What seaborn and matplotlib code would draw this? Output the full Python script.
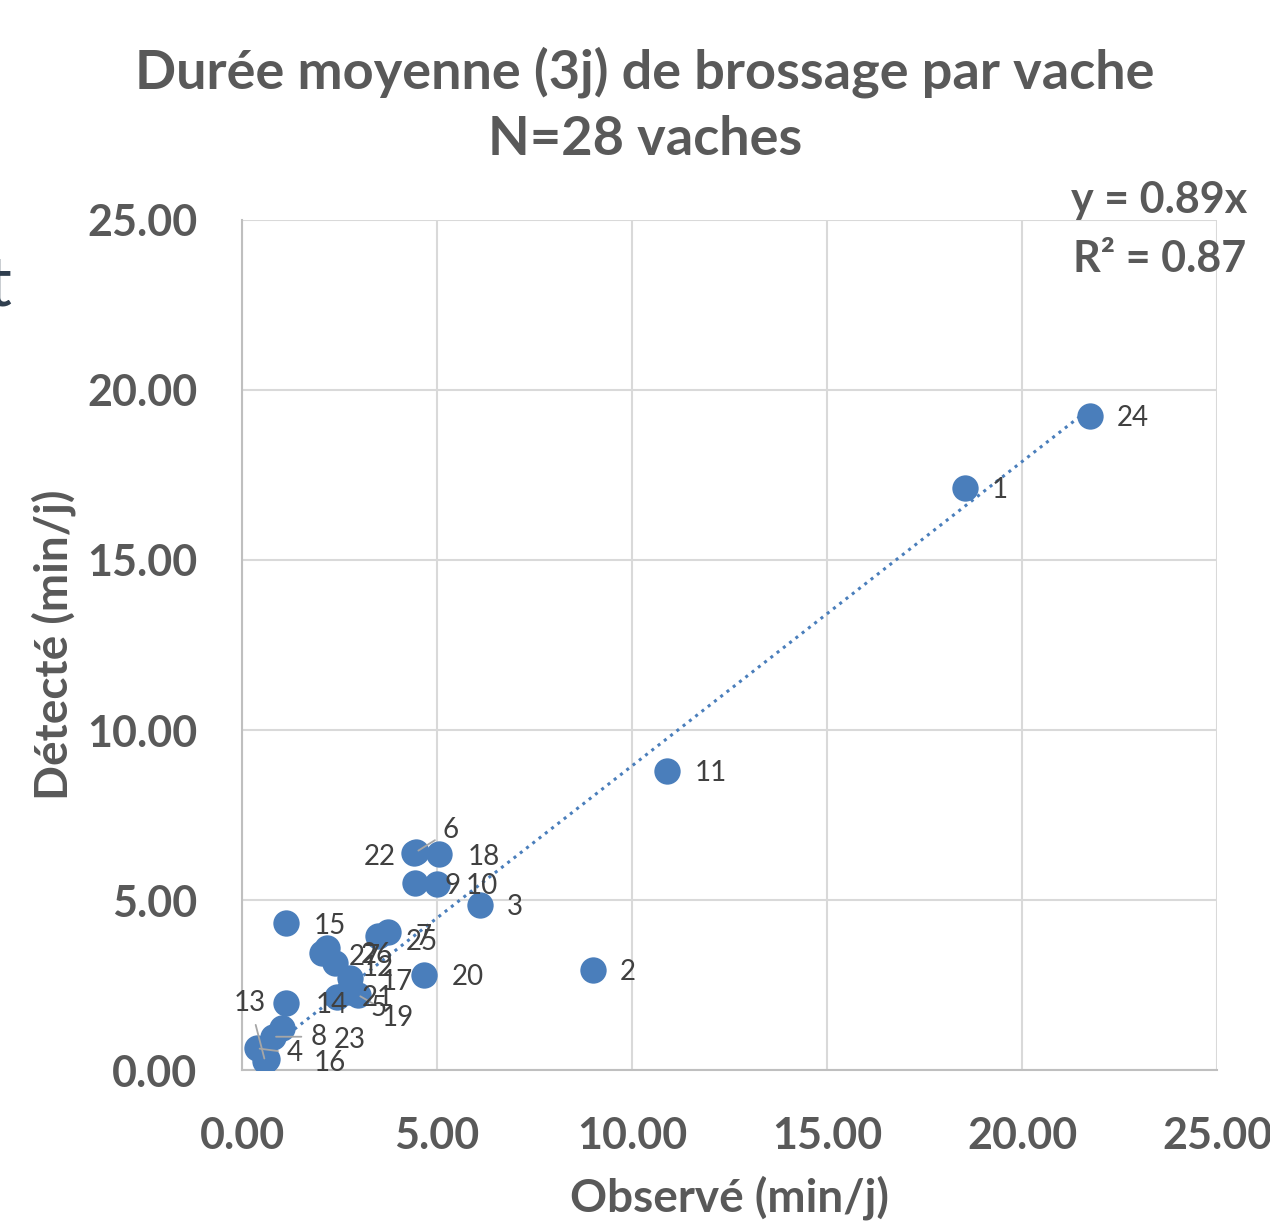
import seaborn as sns
import numpy as np
import matplotlib.pyplot as plt
import pandas as pd

# Observed vs detected mean brushing time (3 days) per cow
cows = list(range(1, 28))
observed = [18.54, 9.00, 6.10, 0.38, 2.72, 4.46, 3.74, 0.80, 4.44, 5.00,
            10.90, 2.38, 0.59, 1.13, 1.13, 0.64, 2.77, 5.05, 2.97, 4.67,
            2.44, 4.41, 1.02, 21.74, 3.49, 2.18, 2.05]
detected = [17.12, 2.94, 4.85, 0.64, 2.29, 6.41, 4.06, 0.98, 5.50, 5.47,
            8.79, 3.15, 0.26, 1.97, 4.32, 0.32, 2.71, 6.35, 2.21, 2.79,
            2.15, 6.38, 1.23, 19.24, 3.94, 3.59, 3.44]

df = pd.DataFrame({'Vache': cows, 'Observé': observed, 'Détecté': detected})

# label offsets in pixels (dx, dy), leader = grey line to the point
label_offsets = {1: (35, -2), 2: (35, -2), 3: (35, -2), 4: (38, -5), 5: (30, -16),
                 6: (35, 22), 7: (36, -5), 8: (45, 0), 9: (37, -3), 10: (45, -2),
                 11: (44, -2), 12: (43, -5), 13: (-15, 58), 14: (46, -2), 15: (44, -3),
                 16: (63, -4), 17: (47, -4), 18: (45, -3), 19: (40, -23), 20: (44, -2),
                 21: (41, -1), 22: (-34, -4), 23: (68, -12), 24: (43, -2), 25: (44, -6),
                 26: (50, -7), 27: (43, -4)}
leaders = [4, 6, 8, 13, 19]

sns.set_theme(style="whitegrid")
plt.rcParams['font.family'] = ['Lato', 'DejaVu Sans']

blue = '#4a7ebb'
grey_txt = '#595959'

fig = plt.figure(figsize=(12.7, 12.26), dpi=100)
ax = fig.add_axes([0.1906, 0.1272, 0.7677, 0.6934])

sns.scatterplot(data=df, x='Observé', y='Détecté', ax=ax, s=360, color=blue,
                edgecolor=blue, linewidth=0, zorder=3)

# linear trend through origin
slope = np.sum(df['Observé'] * df['Détecté']) / np.sum(df['Observé'] ** 2)
xs = np.array([df['Observé'].min(), df['Observé'].max()])
ax.plot(xs, slope * xs, linestyle=(0, (1, 1.6)), color=blue, linewidth=2.2, zorder=2)

for _, row in df.iterrows():
    v = int(row['Vache'])
    dx, dy = label_offsets[v]
    props = None
    if v in leaders:
        props = dict(arrowstyle='-', color='#a6a6a6', lw=1.3, shrinkA=4, shrinkB=2)
    ax.annotate(str(v), (row['Observé'], row['Détecté']), xytext=(dx, dy),
                textcoords='offset pixels', ha='center', va='center',
                fontsize=20, color='#404040', arrowprops=props, zorder=4)

ax.set_xlim(0, 25)
ax.set_ylim(0, 25)
ticks = [0, 5, 10, 15, 20, 25]
ax.set_xticks(ticks)
ax.set_yticks(ticks)
ax.set_xticklabels([f'{t:.2f}' for t in ticks])
ax.set_yticklabels([f'{t:.2f}' for t in ticks])
ax.tick_params(axis='both', length=0, labelsize=31, labelcolor=grey_txt)
ax.tick_params(axis='x', pad=33)
ax.tick_params(axis='y', pad=32)
for lbl in ax.get_xticklabels() + ax.get_yticklabels():
    lbl.set_fontweight('bold')

ax.grid(True, color='#d9d9d9', linewidth=1.5)
for side in ['top', 'right']:
    ax.spines[side].set_visible(False)
for side in ['left', 'bottom']:
    ax.spines[side].set_color('#bfbfbf')
    ax.spines[side].set_linewidth(1.5)

ax.set_xlabel('Observé (min/j)', fontsize=33, fontweight='bold', color=grey_txt, labelpad=14)
ax.set_ylabel('Détecté (min/j)', fontsize=33, fontweight='bold', color=grey_txt, labelpad=8)

fig.text(0.508, 0.941, 'Durée moyenne (3j) de brossage par vache', ha='center', va='center',
         fontsize=39, fontweight='bold', color=grey_txt)
fig.text(0.508, 0.886, 'N=28 vaches', ha='center', va='center',
         fontsize=39, fontweight='bold', color=grey_txt)

fig.text(0.982, 0.837, 'y = 0.89x', ha='right', va='center', fontsize=31,
         fontweight='bold', color=grey_txt)
fig.text(0.981, 0.789, 'R² = 0.87', ha='right', va='center', fontsize=31,
         fontweight='bold', color=grey_txt)

# stray character at the left edge of the slide
fig.text(-0.011, 0.767, 't', ha='left', va='center', fontsize=50, color='#2f3e4e')

plt.savefig("out.png", dpi=100)
